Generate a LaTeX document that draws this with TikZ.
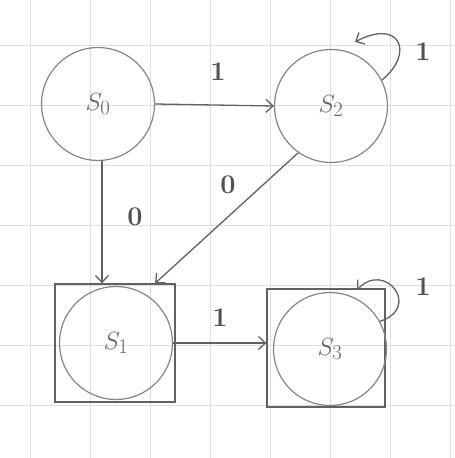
\documentclass[tikz,border=0pt]{standalone}
\usetikzlibrary{arrows.meta,calc}
\begin{document}
\begin{tikzpicture}[x=1pt,y=1pt,
  gridline/.style={draw=black!13, line width=0.9pt},
  pencil/.style={draw=black!62, line width=1.3pt},
  state/.style={circle, draw=black!48, line width=1.2pt, minimum size=113pt, inner sep=0pt,
    font=\fontsize{28}{28}\selectfont, text=black!62},
  acceptbox/.style={rectangle, pencil, minimum width=120pt, minimum height=118pt, inner sep=0pt},
  edge/.style={pencil, -{Straight Barb[length=7pt,width=13pt,line width=1.3pt]}},
  elabel/.style={font=\fontsize{27}{27}\selectfont\bfseries, text=black!68, inner sep=0pt}
]
\fill[white] (0,0) rectangle (455,458);
\useasboundingbox (0,0) rectangle (455,458);
% graph paper
\foreach \gx in {30,90,...,450} \draw[gridline] (\gx,0) -- (\gx,458);
\foreach \gy in {53,113,...,413} \draw[gridline] (0,\gy) -- (455,\gy);

% accepting boxes
\node[acceptbox] (s1box) at (115,115) {};
\node[acceptbox, minimum width=118pt] (s3box) at (326,110) {};

% states
\node[state] (s0) at (98,354) {$S_0$};
\node[state] (s2) at (331,352) {$S_2$};
\node[state] (s1) at (116,115) {$S_1$};
\node[state] (s3) at (330,109) {$S_3$};

% edges
\draw[edge] (s0.east) -- (s2.west);
\draw[edge] ([xshift=4pt]s0.south) -- ([xshift=4pt]s0.south |- s1box.north);
\coordinate (s1hit) at ($(s1box.north west)!0.83!(s1box.north east)$);
\draw[edge] (s2.235) -- (s1hit);
\draw[edge] (s1.east) -- (s1.east -| s3box.west);

% self loops
\coordinate (s2in) at (355,416);
\draw[edge] (s2.27) .. controls (415,405) and (400,440) .. (s2in);
\coordinate (s3in) at (357,168);
\draw[edge] (s3.29) .. controls (422,150) and (385,198) .. (s3in);

% labels
\node[elabel] (l01) at (218,386) {1};
\node[elabel] (l02) at (135,241) {0};
\node[elabel] (l03) at (228,273) {0};
\node[elabel] (l04) at (220,140) {1};
\node[elabel] (l05) at (423,406) {1};
\node[elabel] (l06) at (423,171) {1};
\end{tikzpicture}
\end{document}
